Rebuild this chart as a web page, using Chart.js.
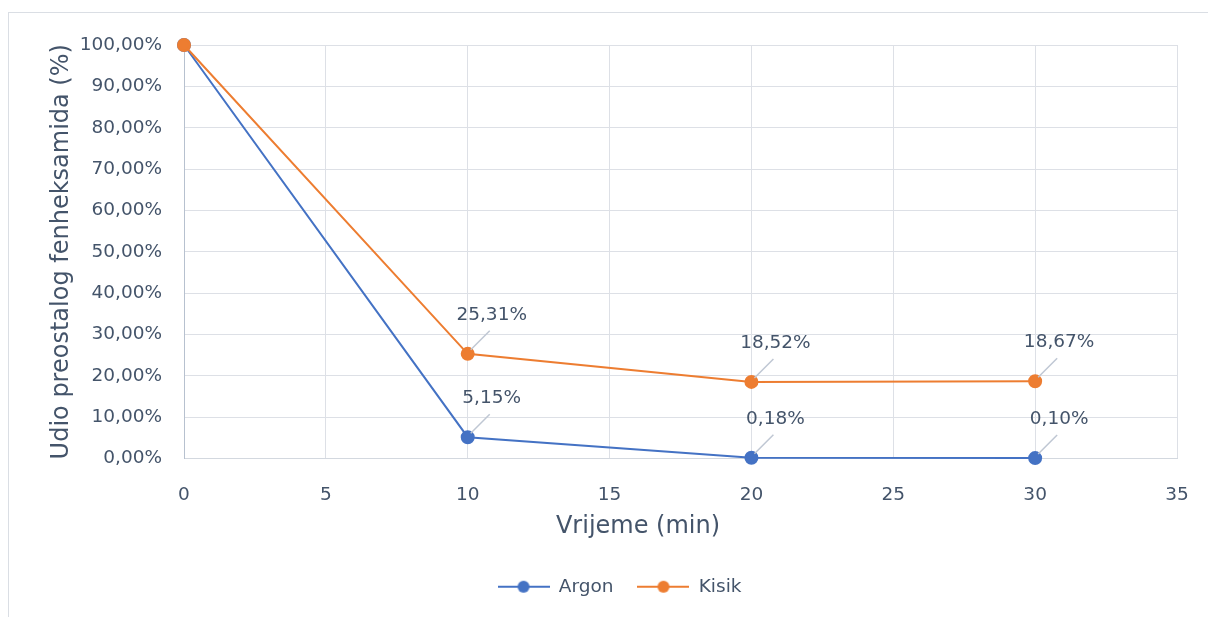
<!DOCTYPE html>
<html lang="hr">
<head>
  <meta charset="UTF-8" />
  <title>Udio preostalog fenheksamida</title>
  <script src="https://cdn.jsdelivr.net/npm/chart.js"></script>
  <style>
    * { margin: 0; padding: 0; box-sizing: border-box; }
    body { background: #fff; width: 1208px; height: 617px; overflow: hidden; position: relative; }
    .frame {
      position: absolute; left: 8px; top: 12px;
      width: 1300px; height: 700px;
      border: 1px solid #dadee4;
    }
    #chart { position: absolute; left: 0; top: 0; }
  </style>
</head>
<body>
  <div class="frame"></div>
  <canvas id="chart" width="1208" height="617"></canvas>

  <script>
    // values
    const times = [0, 10, 20, 30];
    const argon = [100, 5.15, 0.18, 0.10];
    const kisik = [100, 25.31, 18.52, 18.67];
    const seriesNames = ['Argon', 'Kisik'];
    const seriesColors = ['#4472C4', '#ED7D31'];
    const xTitle = 'Vrijeme (min)';
    const yTitle = 'Udio preostalog fenheksamida (%)';

    const textColor = '#44546A';
    const font = 'DejaVu Sans';
    const fmt = v => v.toFixed(2).replace('.', ',') + '%';

    // line + dot marker for the legend
    function makeMarker(color) {
      const c = document.createElement('canvas');
      c.width = 52; c.height = 14;
      const g = c.getContext('2d');
      g.strokeStyle = color; g.lineWidth = 2;
      g.beginPath(); g.moveTo(0, 7); g.lineTo(52, 7); g.stroke();
      g.fillStyle = color;
      g.beginPath(); g.arc(26, 7, 6, 0, Math.PI * 2); g.fill();
      return c;
    }
    const markers = seriesColors.map(makeMarker);

    // value labels with small leader lines (no label at t = 0),
    // plus the x axis title which sits left of the plot centre in the original
    const dataLabels = {
      id: 'dataLabels',
      afterDatasetsDraw(chart) {
        const ctx = chart.ctx;
        ctx.save();
        ctx.font = '18.5px "' + font + '"';
        ctx.fillStyle = textColor;
        ctx.textAlign = 'center';
        ctx.textBaseline = 'middle';
        chart.data.datasets.forEach((ds, i) => {
          chart.getDatasetMeta(i).data.forEach((pt, j) => {
            if (ds.data[j].x === 0) return;
            ctx.strokeStyle = '#bfc7d3';
            ctx.lineWidth = 1.5;
            ctx.beginPath();
            ctx.moveTo(pt.x + 3, pt.y - 4);
            ctx.lineTo(pt.x + 22, pt.y - 23);
            ctx.stroke();
            ctx.fillText(fmt(ds.data[j].y), pt.x + 24, pt.y - 39);
          });
        });
        ctx.font = '24px "' + font + '"';
        ctx.fillText(xTitle, 638, 527);
        ctx.restore();
      }
    };

    // nudge the legend so it sits where the reference has it
    const legendShift = {
      id: 'legendShift',
      afterLayout(chart) {
        chart.legend.left += 18;
        chart.legend.right += 18;
      }
    };

    const toPoints = vals => vals.map((v, i) => ({ x: times[i], y: v }));

    new Chart(document.getElementById('chart'), {
      type: 'line',
      data: {
        datasets: [
          {
            label: seriesNames[0],
            data: toPoints(argon),
            borderColor: seriesColors[0],
            backgroundColor: seriesColors[0],
            pointBackgroundColor: seriesColors[0],
            pointBorderColor: seriesColors[0],
            borderWidth: 2,
            pointRadius: 6,
            clip: false,
            order: 1
          },
          {
            label: seriesNames[1],
            data: toPoints(kisik),
            borderColor: seriesColors[1],
            backgroundColor: seriesColors[1],
            pointBackgroundColor: seriesColors[1],
            pointBorderColor: seriesColors[1],
            borderWidth: 2,
            pointRadius: 6,
            clip: false,
            order: 0
          }
        ]
      },
      options: {
        responsive: false,
        animation: false,
        layout: { padding: { left: 26, right: 31, top: 45, bottom: 11 } },
        plugins: {
          tooltip: { enabled: false },
          legend: {
            position: 'bottom',
            labels: {
              usePointStyle: true,
              pointStyleWidth: 52,
              padding: 24,
              color: textColor,
              font: { family: font, size: 18.5 },
              sort: (a, b) => a.datasetIndex - b.datasetIndex,
              generateLabels(chart) {
                const items = Chart.defaults.plugins.legend.labels.generateLabels(chart);
                items.forEach(it => { it.pointStyle = markers[it.datasetIndex]; });
                return items;
              }
            }
          }
        },
        scales: {
          x: {
            type: 'linear',
            min: 0,
            max: 35,
            ticks: { stepSize: 5, color: textColor, padding: 26, font: { family: font, size: 18.5 } },
            grid: { color: '#dde0e6', drawTicks: false },
            border: { color: '#d3d8df' },
            afterFit: s => { s.height = 95; s.paddingRight = 0; }
          },
          y: {
            min: 0,
            max: 100,
            ticks: { stepSize: 10, color: textColor, padding: 22, font: { family: font, size: 18.5 }, callback: v => fmt(v) },
            grid: { color: '#dde0e6', drawTicks: false },
            border: { color: '#b7c1cf' },
            title: {
              display: true,
              text: yTitle,
              color: textColor,
              font: { family: font, size: 24 },
              padding: { top: 21, bottom: 4 }
            },
            afterFit: s => { s.width = 158; }
          }
        }
      },
      plugins: [dataLabels, legendShift]
    });
  </script>
</body>
</html>
